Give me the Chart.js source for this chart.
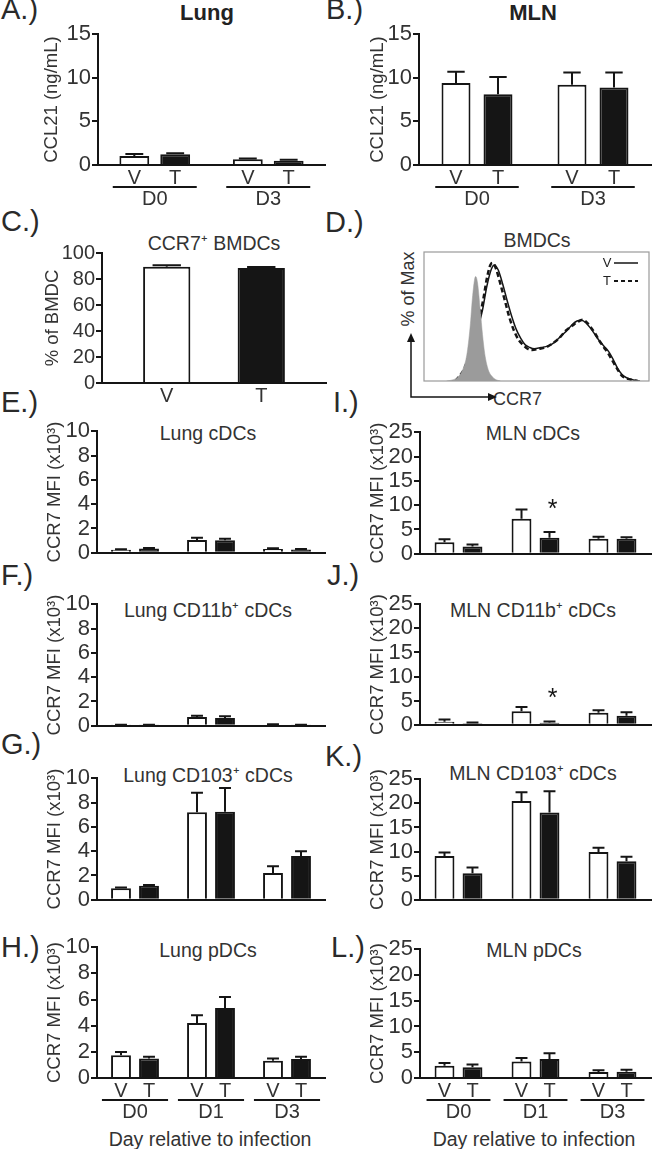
<!DOCTYPE html>
<html>
<head>
<meta charset="utf-8">
<script src="https://cdn.jsdelivr.net/npm/chart.js@4.4.0/dist/chart.umd.min.js"></script>
<style>
  body { margin:0; width:652px; height:1149px; background:#fff; overflow:hidden; position:relative;
         font-family:'Liberation Sans', Arial, sans-serif; color:#333; }
  canvas { position:absolute; }
  .t { position:absolute; transform:translate(-50%,-50%); white-space:nowrap; font-size:19.5px; }
  .lt { position:absolute; transform:translateY(-50%); font-size:29px; white-space:nowrap; color:#2a2a2a; }
  .h { font-weight:bold; font-size:22px; color:#222; }
</style>
</head>
<body>
<div class="lt" style="left:1px;top:9px">A.)</div>
<div class="lt" style="left:326px;top:9px">B.)</div>
<div class="lt" style="left:1px;top:221px">C.)</div>
<div class="lt" style="left:325px;top:222px">D.)</div>
<div class="lt" style="left:1px;top:402px">E.)</div>
<div class="lt" style="left:333px;top:402px">I.)</div>
<div class="lt" style="left:1px;top:575px">F.)</div>
<div class="lt" style="left:327px;top:575px">J.)</div>
<div class="lt" style="left:1px;top:744px">G.)</div>
<div class="lt" style="left:325px;top:756px">K.)</div>
<div class="lt" style="left:1px;top:947px">H.)</div>
<div class="lt" style="left:331px;top:947px">L.)</div>

<div class="t h" style="left:207px;top:13px">Lung</div>
<div class="t h" style="left:533px;top:13px">MLN</div>
<div class="t" style="left:214px;top:242px">CCR7⁺ BMDCs</div>
<div class="t" style="left:537px;top:240px">BMDCs</div>
<div class="t" style="left:208px;top:433px">Lung cDCs</div>
<div class="t" style="left:533px;top:433px">MLN cDCs</div>
<div class="t" style="left:208px;top:609px">Lung CD11b⁺ cDCs</div>
<div class="t" style="left:533px;top:609px">MLN CD11b⁺ cDCs</div>
<div class="t" style="left:208px;top:774px">Lung CD103⁺ cDCs</div>
<div class="t" style="left:533px;top:772px">MLN CD103⁺ cDCs</div>
<div class="t" style="left:208px;top:950px">Lung pDCs</div>
<div class="t" style="left:534px;top:950px">MLN pDCs</div>
<div class="t" style="left:210px;top:1139px">Day relative to infection</div>
<div class="t" style="left:534px;top:1139px">Day relative to infection</div>

<div class="t" style="left:408px;top:289px;transform:translate(-50%,-50%) rotate(-90deg);font-size:18px">% of Max</div>
<div class="t" style="left:493px;top:399px;transform:translateY(-50%);font-size:18px">CCR7</div>

<script>
// ---- data ----
const vtLabels = ['V', 'T'];
const daysAB = ['D0', 'D3'];
const daysDC = ['D0', 'D1', 'D3'];

// A. lung CCL21 (ng/mL)
const lungCclV = [1.03, 0.65], lungCclVErr = [0.23, 0.1];
const lungCclT = [1.22, 0.5],  lungCclTErr = [0.12, 0.1];
// B. MLN CCL21
const mlnCclV = [9.4, 9.2], mlnCclVErr = [1.3, 1.4];
const mlnCclT = [8.1, 8.9], mlnCclTErr = [2.0, 1.7];
// C. % CCR7+ BMDC
const bmdcV = [89.5], bmdcVErr = [1.0];
const bmdcT = [88.5], bmdcTErr = [0.8];
// E-H lung CCR7 MFI (x10^3)
const lungCdcV = [0.25, 1.05, 0.32], lungCdcVErr = [0.05, 0.18, 0.05];
const lungCdcT = [0.35, 1.03, 0.27], lungCdcTErr = [0.05, 0.12, 0.05];
const lung11bV = [0.05, 0.72, 0.08], lung11bVErr = [0.03, 0.1, 0.04];
const lung11bT = [0.06, 0.65, 0.06], lung11bTErr = [0.03, 0.13, 0.03];
const lung103V = [0.95, 7.2, 2.2],   lung103VErr = [0.07, 1.6, 0.55];
const lung103T = [1.15, 7.25, 3.6],  lung103TErr = [0.07, 1.95, 0.4];
const lungPdcV = [1.73, 4.2, 1.32],  lungPdcVErr = [0.25, 0.6, 0.18];
const lungPdcT = [1.5, 5.35, 1.45],  lungPdcTErr = [0.12, 0.85, 0.17];
// I-L MLN CCR7 MFI (x10^3)
const mlnCdcV = [2.4, 7.2, 3.1],   mlnCdcVErr = [0.6, 1.9, 0.4];
const mlnCdcT = [1.5, 3.3, 3.1],   mlnCdcTErr = [0.4, 1.2, 0.3];
const mln11bV = [0.65, 2.8, 2.5],  mln11bVErr = [0.45, 0.9, 0.5];
const mln11bT = [0.3, 0.45, 1.9],  mln11bTErr = [0.2, 0.25, 0.7];
const mln103V = [9.1, 20.5, 9.9],  mln103VErr = [0.7, 1.8, 0.9];
const mln103T = [5.5, 18.1, 8.0],  mln103TErr = [1.2, 4.4, 0.9];
const mlnPdcV = [2.4, 3.2, 1.15],  mlnPdcVErr = [0.5, 0.7, 0.35];
const mlnPdcT = [2.1, 3.7, 1.2],   mlnPdcTErr = [0.5, 1.1, 0.4];

// D. BMDC CCR7 histogram (% of max vs CCR7 channel, 0-100)
const isoX = [10, 13, 15, 17, 19, 20.5, 21.5, 22.5, 23, 23.8, 25, 26, 27, 28.5, 30, 32, 34];
const isoY = [0, 1, 3, 8, 20, 42, 64, 79, 81, 76, 55, 36, 21, 9, 4, 1, 0];
const vehX = [14, 18, 22, 26, 28, 30, 31.3, 33, 35, 37, 39, 41, 43, 45, 47, 49, 52, 55, 58, 61, 64, 66, 68, 70, 72, 74, 76, 78, 80, 82, 84, 86, 88, 90, 93, 96];
const vehY = [0, 8, 28, 55, 74, 87, 90, 86, 75, 62, 50, 40, 33, 28, 26, 25, 26, 27, 30, 35, 40, 44, 46.5, 47, 45, 41, 36, 31, 27, 23, 17, 10, 5, 2.5, 0.8, 0];
const trtX = [14, 18, 22, 26, 28, 29.5, 30.6, 32, 34, 36, 38, 40, 42, 44, 46, 48, 51, 54, 57, 60, 63, 66, 68, 70.5, 72, 74, 76, 78, 80, 82, 84, 86, 88, 90, 93, 95];
const trtY = [0, 10, 32, 60, 80, 90, 91.5, 87, 75, 62, 49, 39, 32, 28, 25, 24, 25, 26, 29, 33, 39, 43, 45.5, 47.5, 46, 42, 37, 31, 26, 21, 15, 9, 4, 2, 0.5, 0];

// ---- drawing ----
const ink = '#151515', txt = '#333';
const fam = "'Liberation Sans', Arial, sans-serif";
Chart.defaults.font.family = fam;

const annot = {
  id: 'annot',
  afterDraw(chart, args, o) {
    const ctx = chart.ctx, y = chart.scales.y, x = chart.scales.x, area = chart.chartArea;
    ctx.save();
    ctx.strokeStyle = ink; ctx.fillStyle = ink; ctx.lineWidth = 2;
    o.err.forEach((errs, di) => {
      chart.getDatasetMeta(di).data.forEach((bar, i) => {
        const v = chart.data.datasets[di].data[i];
        const top = y.getPixelForValue(v + errs[i]);
        const cap = bar.width * 0.3;
        ctx.beginPath();
        ctx.moveTo(bar.x, bar.y); ctx.lineTo(bar.x, top);
        ctx.moveTo(bar.x - cap, top); ctx.lineTo(bar.x + cap, top);
        ctx.stroke();
      });
    });
    ctx.fillStyle = txt;
    ctx.textAlign = 'center';
    if (o.vt) {
      ctx.font = '20px ' + fam;
      ctx.textBaseline = 'middle';
      chart.data.datasets.forEach((ds, di) => {
        chart.getDatasetMeta(di).data.forEach(bar => {
          ctx.fillText(vtLabels[di], bar.x, area.bottom + 13);
        });
      });
    }
    if (o.grp) {
      const cw = (area.right - area.left) / chart.data.labels.length;
      chart.data.labels.forEach((lab, i) => {
        const cx = x.getPixelForValue(i);
        ctx.beginPath();
        ctx.moveTo(cx - cw * o.grp / 2, area.bottom + 22);
        ctx.lineTo(cx + cw * o.grp / 2, area.bottom + 22);
        ctx.stroke();
        ctx.fillText(lab, cx, area.bottom + 34);
      });
    }
    (o.stars || []).forEach(([di, i]) => {
      const bar = chart.getDatasetMeta(di).data[i];
      const v = chart.data.datasets[di].data[i];
      const top = y.getPixelForValue(v + o.err[di][i]);
      ctx.font = '25px ' + fam;
      ctx.textBaseline = 'alphabetic';
      ctx.fillStyle = ink;
      ctx.fillText('*', bar.x + 3, top - 15);
    });
    ctx.restore();
  }
};

function barPanel(p) {
  const cv = document.createElement('canvas');
  const left = p.axisX - p.yW, top = p.top - 14;
  cv.width = p.right - left + 2;
  cv.height = p.zero - p.top + 14 + p.bottom;
  cv.style.left = left + 'px';
  cv.style.top = top + 'px';
  document.body.appendChild(cv);
  new Chart(cv, {
    type: 'bar',
    data: {
      labels: p.days,
      datasets: [
        { label: 'V', data: p.v, backgroundColor: '#fff', borderColor: ink, borderWidth: 2, borderSkipped: 'start' },
        { label: 'T', data: p.t, backgroundColor: ink, borderColor: ink, borderWidth: 2, borderSkipped: 'start' }
      ]
    },
    options: {
      responsive: false, animation: false, devicePixelRatio: 1,
      layout: { padding: { top: 14, right: 2, left: 0, bottom: 0 } },
      datasets: { bar: { categoryPercentage: p.cat, barPercentage: p.bar } },
      scales: {
        x: {
          grid: { display: false }, border: { color: ink, width: 2 }, ticks: { display: false },
          afterFit: s => { s.height = p.bottom; }
        },
        y: {
          min: 0, max: p.max,
          ticks: { stepSize: p.step, autoSkip: false, color: txt, font: { size: p.tick || 22 }, padding: 1 },
          grid: { drawOnChartArea: false, tickLength: 6, color: ink, lineWidth: 2 },
          border: { color: ink, width: 2 },
          title: { display: true, text: p.title, color: txt, font: { size: 18.5 }, padding: { top: 4, bottom: 0 } },
          afterFit: s => { s.width = p.yW; }
        }
      },
      plugins: {
        legend: { display: false }, tooltip: { enabled: false },
        annot: { err: [p.ve, p.te], vt: p.vt, grp: p.grp, stars: p.stars }
      }
    },
    plugins: [annot]
  });
}

const mfi = 'CCR7 MFI (x10³)';
const ccl = 'CCL21 (ng/mL)';
const left = { axisX: 97, right: 325, yW: 57, max: 10, step: 2, title: mfi, days: daysDC, cat: 0.737, bar: 0.71, bottom: 6 };
const right = { axisX: 420, right: 651, yW: 57, max: 25, step: 5, title: mfi, days: daysDC, cat: 0.727, bar: 0.71, bottom: 6 };

barPanel({ axisX: 98, right: 325, top: 34, zero: 165, yW: 61, max: 15, step: 5, title: ccl, days: daysAB,
  cat: 0.72, bar: 0.73, vt: true, grp: 0.74, bottom: 46, v: lungCclV, ve: lungCclVErr, t: lungCclT, te: lungCclTErr });
barPanel({ axisX: 419, right: 651, top: 34, zero: 165, yW: 56, max: 15, step: 5, title: ccl, days: daysAB,
  cat: 0.724, bar: 0.69, vt: true, grp: 0.72, bottom: 46, v: mlnCclV, ve: mlnCclVErr, t: mlnCclT, te: mlnCclTErr });
barPanel({ axisX: 102, right: 326, top: 253, zero: 383, yW: 64, max: 100, step: 20, title: '% of BMDC', days: ['BMDC'],
  cat: 0.844, bar: 0.5, vt: true, bottom: 28, tick: 20, v: bmdcV, ve: bmdcVErr, t: bmdcT, te: bmdcTErr });

barPanel({ ...left, top: 431, zero: 561, v: lungCdcV, ve: lungCdcVErr, t: lungCdcT, te: lungCdcTErr });
barPanel({ ...left, top: 604, zero: 734, v: lung11bV, ve: lung11bVErr, t: lung11bT, te: lung11bTErr });
barPanel({ ...left, top: 778, zero: 908, v: lung103V, ve: lung103VErr, t: lung103T, te: lung103TErr });
barPanel({ ...left, top: 947, zero: 1078, vt: true, grp: 0.87, bottom: 46, v: lungPdcV, ve: lungPdcVErr, t: lungPdcT, te: lungPdcTErr });

barPanel({ ...right, top: 432, zero: 562, stars: [[1, 1]], v: mlnCdcV, ve: mlnCdcVErr, t: mlnCdcT, te: mlnCdcTErr });
barPanel({ ...right, top: 604, zero: 733, stars: [[1, 1]], v: mln11bV, ve: mln11bVErr, t: mln11bT, te: mln11bTErr });
barPanel({ ...right, top: 779, zero: 908, v: mln103V, ve: mln103VErr, t: mln103T, te: mln103TErr });
barPanel({ ...right, top: 949, zero: 1078, vt: true, grp: 0.83, bottom: 46, v: mlnPdcV, ve: mlnPdcVErr, t: mlnPdcT, te: mlnPdcTErr });

// D. histogram overlay
const histFrame = {
  id: 'histFrame',
  afterDraw(chart) {
    const ctx = chart.ctx, a = chart.chartArea;
    ctx.save();
    ctx.strokeStyle = '#9a9a9a'; ctx.lineWidth = 1.2;
    ctx.strokeRect(a.left, a.top, a.right - a.left, a.bottom - a.top);
    // axis arrows
    ctx.strokeStyle = ink; ctx.fillStyle = ink; ctx.lineWidth = 1.5;
    const ox = 11, oy = 157;
    ctx.beginPath();
    ctx.moveTo(ox, oy - 58); ctx.lineTo(ox, oy); ctx.lineTo(ox + 78, oy);
    ctx.stroke();
    ctx.beginPath();
    ctx.moveTo(ox, oy - 64); ctx.lineTo(ox - 4, oy - 55); ctx.lineTo(ox + 4, oy - 55); ctx.closePath(); ctx.fill();
    ctx.beginPath();
    ctx.moveTo(ox + 86, oy); ctx.lineTo(ox + 77, oy - 4); ctx.lineTo(ox + 77, oy + 4); ctx.closePath(); ctx.fill();
    // legend
    ctx.fillStyle = '#222';
    ctx.font = '13px ' + fam;
    ctx.textAlign = 'center'; ctx.textBaseline = 'middle';
    ctx.fillText('V', 207, 23);
    ctx.fillText('T', 207, 41);
    ctx.lineWidth = 1.5;
    ctx.beginPath(); ctx.moveTo(214, 23); ctx.lineTo(238, 23); ctx.stroke();
    ctx.lineWidth = 2;
    ctx.setLineDash([4, 3]);
    ctx.beginPath(); ctx.moveTo(214, 41); ctx.lineTo(238, 41); ctx.stroke();
    ctx.restore();
  }
};

const cvD = document.createElement('canvas');
cvD.width = 252; cvD.height = 170;
cvD.style.left = '400px'; cvD.style.top = '240px';
document.body.appendChild(cvD);
const pts = (xs, ys) => xs.map((x, i) => ({ x, y: ys[i] }));
new Chart(cvD, {
  type: 'line',
  data: {
    datasets: [
      { label: 'Isotype', data: pts(isoX, isoY), fill: 'origin', backgroundColor: '#9b9b9b', borderColor: '#9b9b9b', borderWidth: 0.5 },
      { label: 'V', data: pts(vehX, vehY), fill: false, borderColor: ink, borderWidth: 1.5 },
      { label: 'T', data: pts(trtX, trtY), fill: false, borderColor: ink, borderWidth: 2.5, borderDash: [5, 3] }
    ]
  },
  options: {
    responsive: false, animation: false, devicePixelRatio: 1,
    layout: { padding: { left: 24, top: 12, right: 3, bottom: 29 } },
    elements: { point: { radius: 0 }, line: { cubicInterpolationMode: 'monotone' } },
    scales: {
      x: { type: 'linear', min: 0, max: 100, display: false },
      y: { min: 0, max: 100, display: false }
    },
    plugins: { legend: { display: false }, tooltip: { enabled: false } }
  },
  plugins: [histFrame]
});
</script>
</body>
</html>
